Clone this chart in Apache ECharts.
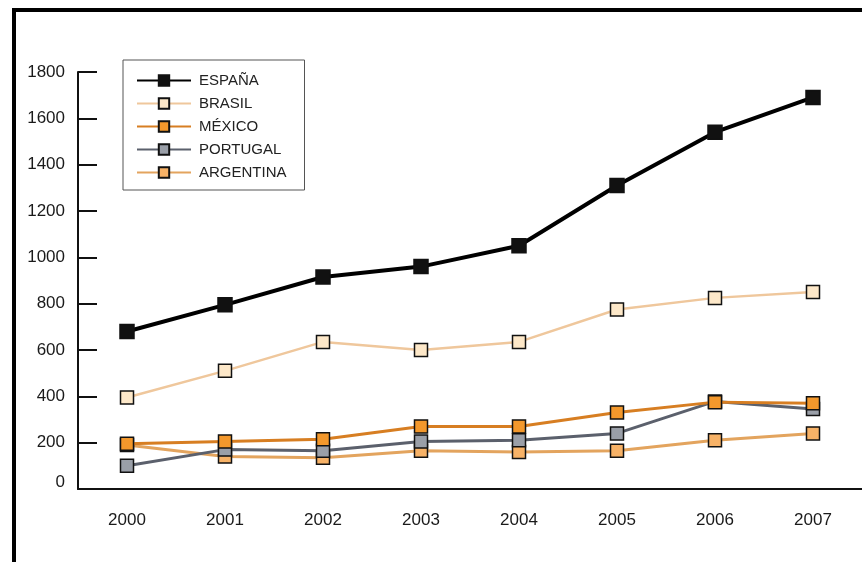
<!DOCTYPE html>
<html>
<head>
<meta charset="utf-8">
<script src="https://cdn.jsdelivr.net/npm/echarts@6/dist/echarts.min.js"></script>
<style>
  html, body { margin: 0; padding: 0; background: #fff; }
  #chart { width: 862px; height: 562px; }
</style>
</head>
<body>
<div id="chart"></div>
<script>
// Years on the horizontal axis
const years = ['2000', '2001', '2002', '2003', '2004', '2005', '2006', '2007'];

// Values per country
const espana    = [680, 795, 915, 960, 1050, 1310, 1540, 1690];
const brasil    = [395, 510, 635, 600, 635, 775, 825, 850];
const mexico    = [195, 205, 215, 270, 270, 330, 375, 370];
const portugal  = [100, 170, 165, 205, 210, 240, 378, 345];
const argentina = [190, 140, 135, 165, 160, 165, 210, 240];

// Vertical axis range
const yMin = 0, yMax = 1800, yStep = 200;

const legendOrder = ['ESPAÑA', 'BRASIL', 'MÉXICO', 'PORTUGAL', 'ARGENTINA'];

function lineSeries(name, data, lineColor, lineWidth, fillColor, size, z) {
  return {
    name: name,
    type: 'line',
    data: data,
    z: z,
    symbol: 'rect',
    symbolSize: size,
    lineStyle: { color: lineColor, width: lineWidth },
    itemStyle: { color: fillColor, borderColor: '#111', borderWidth: 1.5 },
    emphasis: { disabled: true }
  };
}

const chart = echarts.init(document.getElementById('chart'), null, { renderer: 'canvas' });

chart.setOption({
  animation: false,
  backgroundColor: '#fff',
  textStyle: { fontFamily: '"Liberation Sans", Arial, sans-serif' },
  graphic: [
    { type: 'rect', shape: { x: 12, y: 8, width: 860, height: 4 }, style: { fill: '#000' }, z: 100 },
    { type: 'rect', shape: { x: 12, y: 8, width: 4, height: 560 }, style: { fill: '#000' }, z: 100 }
  ],
  grid: { left: 78, right: -2, top: 72, bottom: 73, containLabel: false },
  legend: {
    data: legendOrder,
    orient: 'vertical',
    left: 123,
    top: 60,
    itemWidth: 54,
    itemHeight: 13,
    itemGap: 8,
    padding: [13, 18, 10, 13],
    borderColor: '#555',
    borderWidth: 1,
    backgroundColor: '#fff',
    textStyle: { fontSize: 15, color: '#222', padding: [0, 0, 0, 3] },
    selectedMode: false
  },
  xAxis: {
    type: 'category',
    data: years,
    boundaryGap: true,
    axisLine: { lineStyle: { color: '#111', width: 2 } },
    axisTick: { inside: true, length: 9, lineStyle: { color: '#111', width: 2 } },
    axisLabel: { fontSize: 17, color: '#1a1a1a', margin: 23 },
    splitLine: { show: false }
  },
  yAxis: {
    type: 'value',
    min: yMin,
    max: yMax,
    interval: yStep,
    axisLine: { show: true, lineStyle: { color: '#111', width: 2 } },
    axisTick: { show: true, inside: true, length: 19, lineStyle: { color: '#111', width: 2 } },
    axisLabel: {
      fontSize: 17,
      color: '#1a1a1a',
      margin: 13,
      formatter: function (v) { return v === 0 ? '{zero|0}' : String(v); },
      rich: { zero: { fontSize: 17, color: '#1a1a1a', padding: [0, 0, 14, 0] } }
    },
    splitLine: { show: false }
  },
  series: [
    lineSeries('ARGENTINA', argentina, '#e3a45e', 3, '#f7b267', 13, 2),
    lineSeries('PORTUGAL', portugal, '#5b606c', 3, '#9a9fa8', 13, 3),
    lineSeries('MÉXICO', mexico, '#d77e22', 3, '#f3982c', 13, 4),
    lineSeries('BRASIL', brasil, '#efc79c', 2.5, '#fde8c9', 13, 5),
    lineSeries('ESPAÑA', espana, '#000', 4, '#111', 14, 6)
  ]
});
</script>
</body>
</html>
